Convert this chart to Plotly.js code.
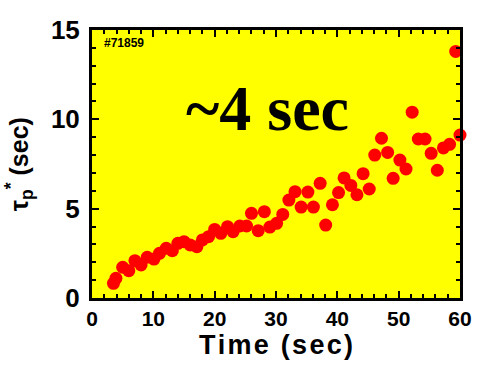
<!DOCTYPE html>
<html>
<head>
<meta charset="utf-8">
<script src="https://cdn.plot.ly/plotly-3.0.1.min.js"></script>
<style>html,body{margin:0;padding:0;background:#fff;}#chart{width:478px;height:367px;}</style>
</head>
<body>
<div id="chart"></div>
<script>
const timeSec = [3.5,3.9,5.0,6.0,7.0,8.0,9.0,10.1,11.0,12.1,13.1,14.0,15.0,16.0,17.1,18.0,19.0,20.0,21.0,22.1,23.0,24.1,25.2,26.0,27.1,28.1,29.0,30.1,31.1,32.1,33.1,34.1,35.2,36.1,37.2,38.1,39.2,40.2,41.1,42.2,43.2,44.2,45.2,46.1,47.2,48.2,49.1,50.2,51.2,52.2,53.2,54.3,55.3,56.3,57.3,58.3,59.3,60.0];
const tauP = [0.82,1.1,1.72,1.53,2.09,1.85,2.28,2.18,2.5,2.78,2.65,3.06,3.15,2.97,2.87,3.25,3.43,3.84,3.62,3.99,3.71,4.03,4.03,4.74,3.77,4.83,3.97,4.18,4.68,5.48,5.95,5.09,5.93,5.09,6.42,4.08,5.22,5.9,6.72,6.3,5.78,6.96,6.1,8.0,8.94,8.15,6.7,7.72,7.22,10.4,8.9,8.9,8.1,7.15,8.4,8.6,13.8,9.12];
const xTicks = [0,10,20,30,40,50,60];
const yTicks = [0,5,10,15];

const trace = {
  x: timeSec, y: tauP, type: 'scatter', mode: 'markers',
  marker: {color: '#ff0000', size: 13},
  cliponaxis: false, hoverinfo: 'skip'
};

const axisCommon = {
  showgrid: false, zeroline: false, showline: true, linecolor: '#000', linewidth: 3,
  mirror: 'ticks', ticks: 'inside', tickcolor: '#000', tickwidth: 2, ticklen: 7
};

const hs = '\u200A';
const xTitle = 'Time (sec)'.split('').join(hs);

const layout = {
  width: 478, height: 367,
  margin: {l: 92, r: 18, t: 30, b: 69},
  paper_bgcolor: '#ffffff', plot_bgcolor: '#ffff00',
  showlegend: false,
  font: {family: 'Arial, Liberation Sans, sans-serif', color: '#000'},
  xaxis: Object.assign({}, axisCommon, {
    range: [0, 60], tickmode: 'array', tickvals: xTicks, ticktext: xTicks.map(String),
    tickfont: {size: 21, weight: 'bold'},
    minor: {dtick: 2, ticks: 'inside', ticklen: 4, tickwidth: 2, tickcolor: '#000'},
    title: {text: '<b>' + xTitle + '</b>', font: {size: 27}, standoff: 6}
  }),
  yaxis: Object.assign({}, axisCommon, {
    range: [0, 15], tickmode: 'array', tickvals: yTicks, ticktext: yTicks.map(String),
    tickfont: {size: 26, weight: 'bold'},
    ticklabelstandoff: 4,
    minor: {dtick: 1, ticks: 'inside', ticklen: 4, tickwidth: 2, tickcolor: '#000'}
  }),
  annotations: [
    {x: -0.198, y: 0.5, xref: 'paper', yref: 'paper', xanchor: 'center', yanchor: 'middle', showarrow: false,
     textangle: -90, text: '<b>τ<sub>p</sub><sup>*</sup> (sec)</b>', font: {size: 25, color: '#000'}},
    {x: 1.7, y: 14.3, xref: 'x', yref: 'y', xanchor: 'left', yanchor: 'middle', showarrow: false,
     text: '<b>#71859</b>', font: {size: 12, color: '#000'}},
    {x: 28.6, y: 10.63, xref: 'x', yref: 'y', xanchor: 'center', yanchor: 'middle', showarrow: false,
     text: '<b>~4 sec</b>', font: {size: 64, family: 'Times New Roman, Liberation Serif, serif', color: '#000'}}
  ]
};

Plotly.newPlot('chart', [trace], layout, {displayModeBar: false, staticPlot: true});
</script>
</body>
</html>
